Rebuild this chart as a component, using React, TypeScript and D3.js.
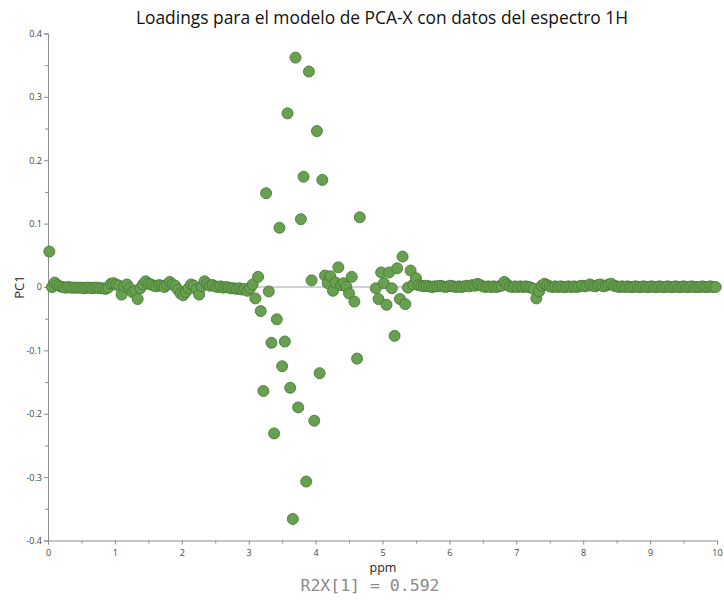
import { useRef, useEffect } from 'react';
import * as d3 from 'd3';

// bucket centres (ppm) and PC1 loadings
const ppm = [
  0.02, 0.06, 0.10, 0.14, 0.18, 0.22, 0.26, 0.30, 0.34, 0.38,
  0.42, 0.46, 0.50, 0.54, 0.58, 0.62, 0.66, 0.70, 0.74, 0.78,
  0.82, 0.86, 0.90, 0.94, 0.98, 1.02, 1.06, 1.10, 1.14, 1.18,
  1.22, 1.26, 1.30, 1.34, 1.38, 1.42, 1.46, 1.50, 1.54, 1.58,
  1.62, 1.66, 1.70, 1.74, 1.78, 1.82, 1.86, 1.90, 1.94, 1.98,
  2.02, 2.06, 2.10, 2.14, 2.18, 2.22, 2.26, 2.30, 2.34, 2.38,
  2.42, 2.46, 2.50, 2.54, 2.58, 2.62, 2.66, 2.70, 2.74, 2.78,
  2.82, 2.86, 2.90, 2.94, 2.98, 3.02, 3.06, 3.10, 3.14, 3.18,
  3.22, 3.26, 3.30, 3.34, 3.38, 3.42, 3.46, 3.50, 3.54, 3.58,
  3.62, 3.66, 3.70, 3.74, 3.78, 3.82, 3.86, 3.90, 3.94, 3.98,
  4.02, 4.06, 4.10, 4.14, 4.18, 4.22, 4.26, 4.30, 4.34, 4.38,
  4.42, 4.46, 4.50, 4.54, 4.58, 4.62, 4.66, 4.90, 4.94, 4.98,
  5.02, 5.06, 5.10, 5.14, 5.18, 5.22, 5.26, 5.30, 5.34, 5.38,
  5.42, 5.46, 5.50, 5.54, 5.58, 5.62, 5.66, 5.70, 5.74, 5.78,
  5.82, 5.86, 5.90, 5.94, 5.98, 6.02, 6.06, 6.10, 6.14, 6.18,
  6.22, 6.26, 6.30, 6.34, 6.38, 6.42, 6.46, 6.50, 6.54, 6.58,
  6.62, 6.66, 6.70, 6.74, 6.78, 6.82, 6.86, 6.90, 6.94, 6.98,
  7.02, 7.06, 7.10, 7.14, 7.18, 7.22, 7.26, 7.30, 7.34, 7.38,
  7.42, 7.46, 7.50, 7.54, 7.58, 7.62, 7.66, 7.70, 7.74, 7.78,
  7.82, 7.86, 7.90, 7.94, 7.98, 8.02, 8.06, 8.10, 8.14, 8.18,
  8.22, 8.26, 8.30, 8.34, 8.38, 8.42, 8.46, 8.50, 8.54, 8.58,
  8.62, 8.66, 8.70, 8.74, 8.78, 8.82, 8.86, 8.90, 8.94, 8.98,
  9.02, 9.06, 9.10, 9.14, 9.18, 9.22, 9.26, 9.30, 9.34, 9.38,
  9.42, 9.46, 9.50, 9.54, 9.58, 9.62, 9.66, 9.70, 9.74, 9.78,
  9.82, 9.86, 9.90, 9.94, 9.98,
];

const pc1 = [
  0.056, 0.000, 0.007, 0.003, 0.001, 0.000, -0.001, 0.000, -0.001, -0.001,
  -0.001, -0.001, -0.001, -0.002, -0.001, -0.001, -0.002, -0.001, -0.001, -0.002,
  -0.002, -0.003, -0.001, 0.005, 0.006, 0.004, 0.002, -0.012, 0.001, 0.004,
  -0.002, -0.008, -0.006, -0.019, -0.002, 0.004, 0.009, 0.005, 0.004, 0.002,
  0.001, 0.003, 0.002, 0.000, 0.004, 0.008, 0.004, 0.002, -0.004, -0.010,
  -0.013, -0.008, -0.002, 0.004, 0.002, -0.004, -0.012, 0.001, 0.009, 0.005,
  0.002, 0.003, 0.001, 0.000, 0.001, -0.001, 0.000, -0.001, -0.002, -0.002,
  -0.003, -0.002, -0.004, -0.003, -0.006, -0.002, 0.004, -0.018, 0.016, -0.038,
  -0.164, 0.148, -0.007, -0.088, -0.231, -0.051, 0.0935, -0.125, -0.086, 0.274,
  -0.159, -0.366, 0.362, -0.190, 0.107, 0.174, -0.307, 0.340, 0.0105, -0.211,
  0.246, -0.136, 0.169, 0.018, 0.006, 0.017, -0.006, 0.007, 0.031, 0.003,
  0.006, 0.0005, -0.010, 0.016, -0.023, -0.113, 0.110, -0.002, -0.019, 0.023,
  0.006, -0.028, 0.023, -0.002, -0.077, 0.0295, -0.019, 0.048, -0.027, -0.001,
  0.026, 0.004, 0.014, 0.003, 0.002, 0.001, 0.002, 0.001, 0.000, 0.001,
  0.001, 0.002, 0.001, 0.000, 0.001, 0.002, 0.001, 0.000, 0.001, 0.000,
  0.001, 0.002, 0.001, 0.003, 0.002, 0.005, 0.003, 0.001, 0.000, 0.001,
  0.000, 0.001, 0.000, 0.001, 0.002, 0.008, 0.004, 0.001, 0.000, 0.001,
  0.000, 0.001, 0.000, 0.001, 0.000, -0.001, -0.003, -0.018, -0.007, 0.002,
  0.005, 0.003, 0.001, 0.000, 0.001, 0.000, 0.001, 0.000, 0.000, 0.001,
  0.000, 0.001, 0.000, 0.001, 0.002, 0.001, 0.002, 0.004, 0.002, 0.001,
  0.003, 0.004, 0.001, 0.002, 0.004, 0.005, 0.002, 0.001, 0.000, 0.001,
  0.000, 0.001, 0.000, 0.000, 0.001, 0.000, 0.000, 0.001, 0.000, 0.000,
  0.001, 0.000, 0.000, 0.001, 0.000, 0.000, 0.001, 0.000, 0.000, 0.001,
  0.000, 0.000, 0.001, 0.000, 0.000, 0.001, 0.000, 0.000, 0.000, 0.001,
  0.000, 0.000, 0.001, 0.000, 0.000,
];

const xTicks = [0, 1, 2, 3, 4, 5, 6, 7, 8, 9, 10];
const xMinorTicks = [0.5, 1.5, 2.5, 3.5, 4.5, 5.5, 6.5, 7.5, 8.5, 9.5];
const yTicks = [-0.4, -0.3, -0.2, -0.1, 0, 0.1, 0.2, 0.3, 0.4];
const yTickLabels = ['-0.4', '-0.3', '-0.2', '-0.1', '0', '0.1', '0.2', '0.3', '0.4'];
const yMinorTicks = [-0.35, -0.25, -0.15, -0.05, 0.05, 0.15, 0.25, 0.35];

const title = 'Loadings para el modelo de PCA-X con datos del espectro 1H';
const footer = 'R2X[1] = 0.592';

export default function App() {
  const svgRef = useRef<SVGSVGElement>(null);

  useEffect(() => {
    const w = 724;
    const h = 602;
    const svg = d3.select(svgRef.current)
      .attr('width', w)
      .attr('height', h)
      .style('position', 'absolute')
      .style('left', 0)
      .style('top', 0)
      .style('background', '#fff');
    svg.selectAll('*').remove();

    const x = d3.scaleLinear().domain([0, 10]).range([48, 717]);
    const y = d3.scaleLinear().domain([-0.4, 0.4]).range([540.5, 33.5]);
    const font = '"Open Sans", sans-serif';

    // zero line
    svg.append('line')
      .attr('x1', x(0)).attr('x2', x(10))
      .attr('y1', y(0)).attr('y2', y(0))
      .attr('stroke', '#c2c2c2')
      .attr('stroke-width', 1.5);

    const yAxis = d3.axisLeft(y)
      .tickValues(yTicks)
      .tickSize(4)
      .tickPadding(2)
      .tickFormat((d, i) => yTickLabels[i]);
    const yMinor = d3.axisLeft(y).tickValues(yMinorTicks).tickSize(3).tickFormat(() => '');
    const xAxis = d3.axisBottom(x)
      .tickValues(xTicks)
      .tickSize(4)
      .tickPadding(5)
      .tickFormat(d => String(d));
    const xMinor = d3.axisBottom(x).tickValues(xMinorTicks).tickSize(3).tickFormat(() => '');

    const gy = svg.append('g').attr('transform', `translate(${x(0)},0)`).call(yAxis);
    svg.append('g').attr('transform', `translate(${x(0)},0)`).call(yMinor).select('.domain').remove();
    const gx = svg.append('g').attr('transform', `translate(0,${y(-0.4)})`).call(xAxis);
    svg.append('g').attr('transform', `translate(0,${y(-0.4)})`).call(xMinor).select('.domain').remove();

    [gx, gy].forEach(g => {
      g.select('.domain').attr('stroke', '#8c8c8c');
      g.selectAll('text').attr('font-family', font).attr('font-size', 9).attr('fill', '#444');
    });
    svg.selectAll('.tick line').attr('stroke', '#8c8c8c');

    // points
    svg.append('g')
      .selectAll('circle')
      .data(ppm.map((p, i) => [p, pc1[i]]))
      .join('circle')
      .attr('cx', d => x(d[0]))
      .attr('cy', d => y(d[1]))
      .attr('r', 5.5)
      .attr('fill', '#67a04f')
      .attr('stroke', '#4a7a38')
      .attr('stroke-width', 0.9);

    svg.append('text')
      .attr('x', 382).attr('y', 24)
      .attr('text-anchor', 'middle')
      .attr('font-family', font)
      .attr('font-size', 17.4)
      .attr('fill', '#111')
      .text(title);

    svg.append('text')
      .attr('transform', `translate(24,${y(0)}) rotate(-90)`)
      .attr('text-anchor', 'middle')
      .attr('font-family', font)
      .attr('font-size', 13)
      .attr('fill', '#222')
      .text('PC1');

    svg.append('text')
      .attr('x', 383).attr('y', 572)
      .attr('text-anchor', 'middle')
      .attr('font-family', font)
      .attr('font-size', 12.5)
      .attr('fill', '#222')
      .text('ppm');

    svg.append('text')
      .attr('x', 370).attr('y', 591)
      .attr('text-anchor', 'middle')
      .attr('font-family', '"DejaVu Sans Mono", monospace')
      .attr('font-size', 16.5)
      .attr('fill', '#8a8a8a')
      .text(footer);
  }, []);

  return <svg ref={svgRef}></svg>;
}
